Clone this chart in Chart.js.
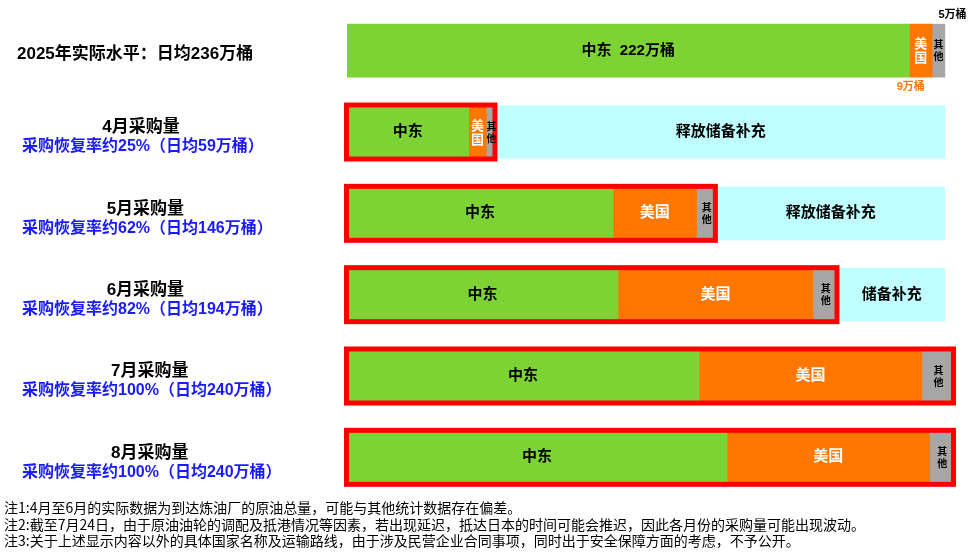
<!DOCTYPE html>
<html lang="zh-CN">
<head>
<meta charset="utf-8">
<title>采购恢复情况</title>
<script src="https://cdn.jsdelivr.net/npm/chart.js@4.4.1/dist/chart.umd.min.js"></script>
<style>
  html, body { margin: 0; padding: 0; background: #fff; }
  #wrap { position: relative; width: 976px; height: 558px; }
  #notes {
    position: absolute; left: 4px; top: 499px;
    font: 14px/16.5px "Noto Sans CJK SC", sans-serif; color: #000;
  }
</style>
</head>
<body>
<div id="wrap">
  <canvas id="chart"></canvas>
  <div id="notes">
    <div>注1:4月至6月的实际数据为到达炼油厂的原油总量，可能与其他统计数据存在偏差。</div>
    <div>注2:截至7月24日，由于原油油轮的调配及抵港情况等因素，若出现延迟，抵达日本的时间可能会推迟，因此各月份的采购量可能出现波动。</div>
    <div>注3:关于上述显示内容以外的具体国家名称及运输路线，由于涉及民营企业合同事项，同时出于安全保障方面的考虑，不予公开。</div>
  </div>
</div>
<script>
// 单位：万桶/日
const rows = ['2025年', '4月', '5月', '6月', '7月', '8月'];
const middleEast = [222, 48, 105, 107, 139, 150];
const usa = [9, 7, 33, 77, 88, 80];
const others = [5, 4, 8, 10, 13, 10];
const reserve = [0, 177, 90, 42, 0, 0];

const rowTitles = ['2025年实际水平：日均236万桶', '4月采购量', '5月采购量', '6月采购量', '7月采购量', '8月采购量'];
const recoveryLines = ['', '采购恢复率约25%（日均59万桶）', '采购恢复率约62%（日均146万桶）',
  '采购恢复率约82%（日均194万桶）', '采购恢复率约100%（日均240万桶）', '采购恢复率约100%（日均240万桶）'];
const meLabels = ['中东  222万桶', '中东', '中东', '中东', '中东', '中东'];
const reserveLabels = ['', '释放储备补充', '释放储备补充', '储备补充', '', ''];

const FONT = '"Liberation Sans", "Noto Sans CJK SC", sans-serif';
const GREEN = '#7ed334';
const ORANGE = '#ff7700';
const GREY = '#a6a6a6';
const CYAN = '#c0ffff';

function barBox(el) {
  const p = el.getProps(['x', 'y', 'base', 'height'], true);
  return { left: Math.min(p.x, p.base), right: Math.max(p.x, p.base), y: p.y, h: p.height };
}

const labelPlugin = {
  id: 'labels',
  afterDatasetsDraw(chart) {
    const ctx = chart.ctx;
    const metas = [0, 1, 2, 3].map(i => chart.getDatasetMeta(i));
    const yScale = chart.scales.y;
    ctx.save();
    ctx.textAlign = 'center';
    ctx.textBaseline = 'middle';

    rows.forEach((r, i) => {
      const me = barBox(metas[0].data[i]);
      const us = barBox(metas[1].data[i]);
      const ot = barBox(metas[2].data[i]);
      const rs = barBox(metas[3].data[i]);

      // 红框
      if (i > 0) {
        ctx.strokeStyle = '#ff0000';
        ctx.lineWidth = 5;
        ctx.strokeRect(me.left - 0.5, me.y - me.h / 2 - 0.5, ot.right - me.left - 1, me.h + 1);
      }

      // 中东
      ctx.fillStyle = '#000';
      ctx.font = 'bold 15px ' + FONT;
      ctx.fillText(meLabels[i], (me.left + me.right) / 2, me.y);

      // 美国
      ctx.fillStyle = '#fff';
      if (us.right - us.left < 30) {
        ctx.font = 'bold 13px ' + FONT;
        ctx.fillText('美', (us.left + us.right) / 2, me.y - 6);
        ctx.fillText('国', (us.left + us.right) / 2, me.y + 8);
      } else {
        ctx.font = 'bold 15px ' + FONT;
        ctx.fillText('美国', (us.left + us.right) / 2, me.y);
      }

      // 其他
      ctx.fillStyle = '#000';
      ctx.font = 'bold 10px ' + FONT;
      ctx.fillText('其', (ot.left + ot.right) / 2, me.y - 5);
      ctx.fillText('他', (ot.left + ot.right) / 2, me.y + 7);

      // 储备
      if (reserveLabels[i]) {
        ctx.font = 'bold 15px ' + FONT;
        ctx.fillText(reserveLabels[i], (rs.left + rs.right) / 2, me.y);
      }

      // 左侧说明
      const cy = yScale.getPixelForValue(i);
      if (i === 0) {
        ctx.textAlign = 'left';
        ctx.font = 'bold 17px ' + FONT;
        ctx.fillStyle = '#000';
        ctx.fillText(rowTitles[i], 17, cy + 4);
        ctx.textAlign = 'center';
        // 数量标注
        ctx.font = 'bold 11px ' + FONT;
        ctx.fillText(others[0] + '万桶', (ot.left + ot.right) / 2 + 14, me.y - me.h / 2 - 9);
        ctx.fillStyle = ORANGE;
        ctx.fillText(usa[0] + '万桶', (us.left + us.right) / 2 - 10, me.y + me.h / 2 + 10);
      } else {
        ctx.font = 'bold 16px ' + FONT;
        const w = ctx.measureText(recoveryLines[i]).width;
        ctx.textAlign = 'left';
        ctx.fillStyle = '#1a1aff';
        ctx.fillText(recoveryLines[i], 22, cy + 15);
        ctx.textAlign = 'center';
        ctx.fillStyle = '#000';
        ctx.font = 'bold 17px ' + FONT;
        ctx.fillText(rowTitles[i], 22 + w / 2 - 2, cy - 4.5);
      }
    });
    ctx.restore();
  }
};

new Chart(document.getElementById('chart'), {
  type: 'bar',
  data: {
    labels: rows,
    datasets: [
      { label: '中东', data: middleEast, backgroundColor: GREEN },
      { label: '美国', data: usa, backgroundColor: ORANGE },
      { label: '其他', data: others, backgroundColor: GREY },
      { label: '储备补充', data: reserve, backgroundColor: CYAN }
    ]
  },
  options: {
    indexAxis: 'y',
    responsive: true,
    maintainAspectRatio: false,
    animation: false,
    layout: { padding: { left: 347, right: 21, top: 10, bottom: 60 } },
    datasets: { bar: { barThickness: 53, borderWidth: 0 } },
    plugins: { legend: { display: false }, tooltip: { enabled: false } },
    scales: {
      x: { stacked: true, min: 0, max: 240, display: false },
      y: { stacked: true, display: false }
    }
  },
  plugins: [labelPlugin]
});
</script>
</body>
</html>
